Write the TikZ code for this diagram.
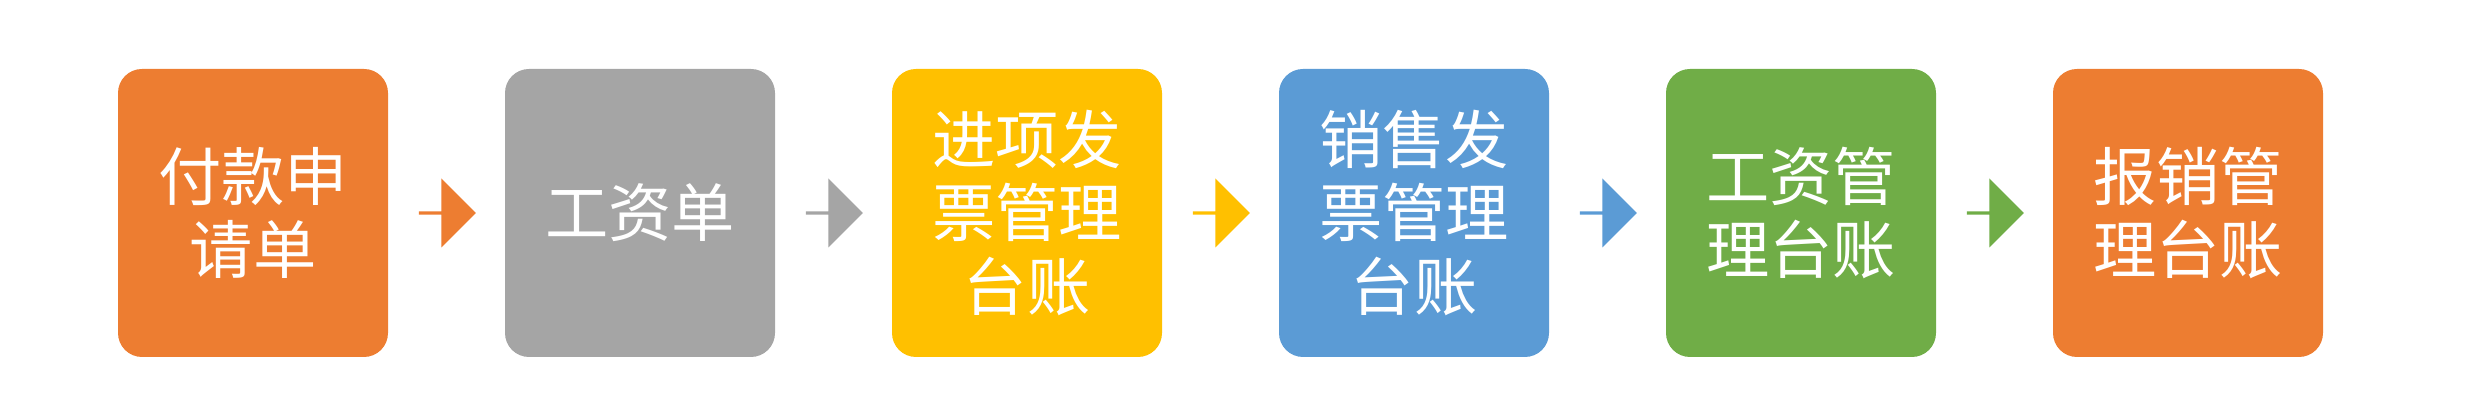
\documentclass[tikz,border=0pt]{standalone}
\usepackage{fontspec}
\newfontfamily\cjk{Noto Sans CJK SC}
\usetikzlibrary{shapes.arrows, calc}
\definecolor{cOrange}{HTML}{ED7D31}
\definecolor{cGray}{HTML}{A5A5A5}
\definecolor{cYellow}{HTML}{FFC000}
\definecolor{cBlue}{HTML}{5B9BD5}
\definecolor{cGreen}{HTML}{70AD47}
\begin{document}
\begin{tikzpicture}[x=1mm, y=1mm,
  stage/.style={rectangle, rounded corners=2.4mm, minimum width=27mm, minimum height=28.8mm, inner sep=0pt, text=white, align=center, font=\cjk\fontsize{18}{21}\selectfont},
  flow/.style={single arrow, single arrow head extend=1.4mm, minimum width=6.9mm, minimum height=5.7mm, inner sep=0pt, shape border uses incircle=false}]
  \useasboundingbox (0,0) rectangle (246.5,42);
  \node[stage, fill=cOrange] (pay) at (25.3,20.7) {付款申\\请单};
  \node[stage, fill=cGray] (wage) at (64,20.7) {工资单};
  \node[stage, fill=cYellow] (inv) at (102.7,20.7) {进项发\\票管理\\台账};
  \node[stage, fill=cBlue] (sale) at (141.4,20.7) {销售发\\票管理\\台账};
  \node[stage, fill=cGreen] (wagebook) at (180.1,20.7) {工资管\\理台账};
  \node[stage, fill=cOrange] (claim) at (218.8,20.7) {报销管\\理台账};
  % block arrows between stages
  \node[flow, fill=cOrange] at ($(pay)!0.5!(wage)$) {};
  \node[flow, fill=cGray] at ($(wage)!0.5!(inv)$) {};
  \node[flow, fill=cYellow] at ($(inv)!0.5!(sale)$) {};
  \node[flow, fill=cBlue] at ($(sale)!0.5!(wagebook)$) {};
  \node[flow, fill=cGreen] at ($(wagebook)!0.5!(claim)$) {};
\end{tikzpicture}
\end{document}
